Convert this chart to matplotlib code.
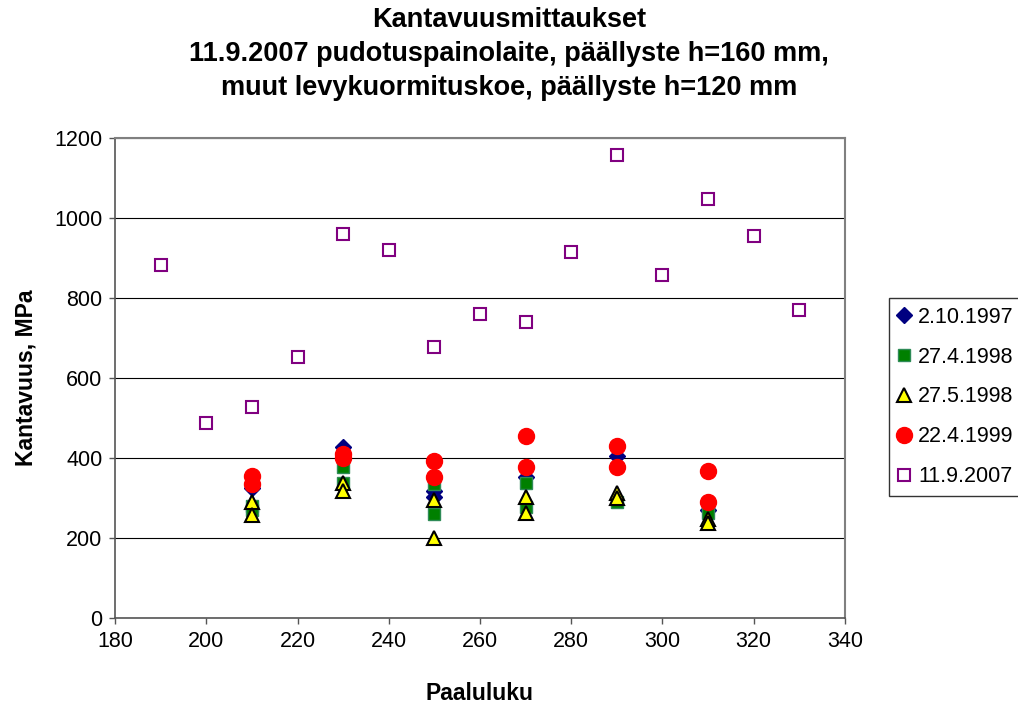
import matplotlib
matplotlib.use("Agg")
import matplotlib.pyplot as plt

plt.rcParams['font.family'] = ['Liberation Sans', 'DejaVu Sans']

# Plate-load test series
x_1997 = [210, 230, 250, 250, 270, 290, 310]
y_1997 = [325, 428, 318, 302, 352, 405, 270]

x_1998a = [210, 210, 230, 230, 250, 250, 270, 270, 290, 310]
y_1998a = [280, 270, 378, 338, 336, 260, 338, 278, 290, 262]

x_1998b = [210, 210, 230, 230, 250, 250, 270, 270, 290, 290, 310, 310]
y_1998b = [290, 257, 338, 318, 295, 200, 303, 262, 312, 300, 248, 238]

x_1999 = [210, 210, 230, 230, 250, 250, 270, 270, 290, 290, 310, 310]
y_1999 = [355, 335, 410, 400, 393, 353, 455, 378, 430, 378, 368, 291]

# Falling weight deflectometer series
x_2007 = [190, 200, 210, 220, 230, 240, 250, 260, 270, 280, 290, 300, 310, 320, 330]
y_2007 = [883, 487, 528, 652, 960, 920, 678, 760, 740, 915, 1157, 858, 1048, 955, 770]

labels = ['2.10.1997', '27.4.1998', '27.5.1998', '22.4.1999', '11.9.2007']

fig = plt.figure(figsize=(10.18, 7.06), dpi=100)
ax = fig.add_axes([0.113, 0.1246, 0.717, 0.68])

ax.plot(x_1997, y_1997, linestyle='none', marker='D', markersize=8,
        color='#000080', label=labels[0], zorder=3)
ax.plot(x_1998a, y_1998a, linestyle='none', marker='s', markersize=8,
        color='#008000', markeredgecolor='#2e8b57', label=labels[1], zorder=4)
ax.plot(x_1998b, y_1998b, linestyle='none', marker='^', markersize=10,
        markerfacecolor='#ffff00', markeredgecolor='black', markeredgewidth=1.5,
        label=labels[2], zorder=5)
ax.plot(x_1999, y_1999, linestyle='none', marker='o', markersize=11.5,
        color='#ff0000', label=labels[3], zorder=6)
ax.plot(x_2007, y_2007, linestyle='none', marker='s', markersize=8.5,
        markerfacecolor='white', markeredgecolor='#800080', markeredgewidth=1.5,
        label=labels[4], zorder=3)

ax.set_xlim(180, 340)
ax.set_ylim(0, 1200)
ax.set_xticks(range(180, 341, 20))
ax.set_yticks(range(0, 1201, 200))
ax.yaxis.grid(True, color='black', linewidth=0.8)
ax.set_axisbelow(True)

for side in ['top', 'right']:
    ax.spines[side].set_color('#808080')
    ax.spines[side].set_linewidth(1.5)
for side in ['left', 'bottom']:
    ax.spines[side].set_color('#555555')
    ax.spines[side].set_linewidth(1.2)

ax.tick_params(axis='both', direction='out', length=4, width=1, color='#555555',
               labelsize=15.5, pad=5)

ax.set_xlabel('Paaluluku', fontsize=16.5, fontweight='bold', labelpad=22)
ax.set_ylabel('Kantavuus, MPa', fontsize=16.5, fontweight='bold', labelpad=12)

fig.text(0.5, 1 - 7 / 706,
         'Kantavuusmittaukset\n11.9.2007 pudotuspainolaite, päällyste h=160 mm,\n'
         'muut levykuormituskoe, päällyste h=120 mm',
         ha='center', va='top', fontsize=19.5, fontweight='bold', linespacing=1.4)

leg = fig.legend(loc='upper left', bbox_to_anchor=(889 / 1018, 1 - 298 / 706),
                 fontsize=15.5,
                 frameon=True, fancybox=False, edgecolor='black',
                 handletextpad=0.35, handlelength=0.6, labelspacing=0.88,
                 borderpad=0.4, borderaxespad=0, handleheight=0.7)
leg.get_frame().set_linewidth(1.0)

fig.savefig('out.png', dpi=100)
